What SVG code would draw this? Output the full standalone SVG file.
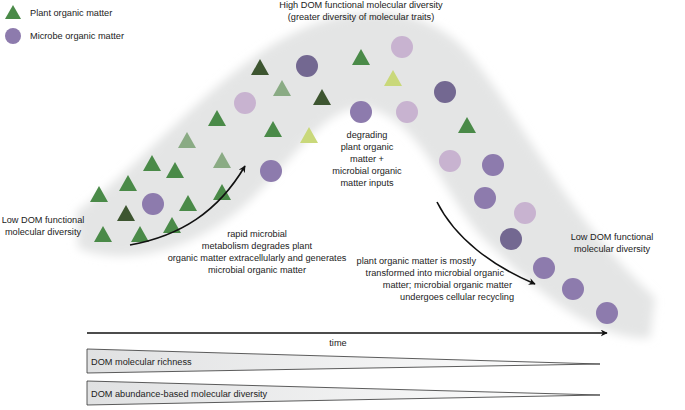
<svg xmlns="http://www.w3.org/2000/svg" width="685" height="410" viewBox="0 0 685 410">
<defs>
<filter id="blur" x="-10%" y="-10%" width="120%" height="120%"><feGaussianBlur stdDeviation="5"/></filter>
<linearGradient id="wg" x1="0" x2="1" y1="0" y2="0"><stop offset="0" stop-color="#e0e1e2"/><stop offset="1" stop-color="#ffffff"/></linearGradient>
<marker id="ah" viewBox="0 0 10 10" refX="9" refY="5" markerWidth="7" markerHeight="7" orient="auto" markerUnits="userSpaceOnUse"><path d="M0,0 L10,5 L0,10 L3,5 Z" fill="#111"/></marker>
</defs>
<style>
text{font-family:"Liberation Sans",Arial,sans-serif;font-size:9.2px;fill:#222}
.m{text-anchor:middle}.e{text-anchor:end}
.g{fill:#4a8a48}.d{fill:#3d5530}.l{fill:#8aab84}.y{fill:#c9d87a}
.p{fill:#8d7bad}.pd{fill:#736891}.pl{fill:#c8b3d0}
.arr{fill:none;stroke:#111;stroke-width:1.6;marker-end:url(#ah)}
.w{fill:url(#wg);stroke:#333;stroke-width:0.8}
</style>
<rect width="685" height="410" fill="#fff"/>
<path id="blob" filter="url(#blur)" fill="#e4e5e5" d="M76,212 C150,160 215,70 300,30 C365,0 430,8 470,55 C520,115 565,215 655,298 L650,338 C595,340 540,295 485,240 C445,198 425,128 375,110 C330,95 300,155 245,205 C195,250 125,268 78,248 Z"/>
<g id="legend">
<polygon class="g" points="13,5 21,19 5,19"/><text x="30" y="16">Plant organic matter</text>
<circle class="p" cx="13" cy="36" r="8"/><text x="30" y="39">Microbe organic matter</text>
</g>
<g id="shapes">
<polygon class="g" points="99,186 108,202 90,202"/>
<polygon class="g" points="128,175 137,191 119,191"/>
<polygon class="g" points="103,226 112,242 94,242"/>
<polygon class="g" points="140,226 149,242 131,242"/>
<polygon class="d" points="126,205 135,221 117,221"/>
<polygon class="g" points="152,155 161,171 143,171"/>
<polygon class="g" points="175,162 184,178 166,178"/>
<polygon class="g" points="188,195 197,211 179,211"/>
<polygon class="g" points="172,217 181,233 163,233"/>
<polygon class="l" points="187,132 196,148 178,148"/>
<polygon class="g" points="217,110 226,126 208,126"/>
<polygon class="l" points="222,152 231,168 213,168"/>
<polygon class="g" points="222,184 231,200 213,200"/>
<polygon class="d" points="260,59 269,75 251,75"/>
<polygon class="l" points="282,80 291,96 273,96"/>
<polygon class="d" points="322,89 331,105 313,105"/>
<polygon class="g" points="273,121 282,137 264,137"/>
<polygon class="y" points="309,127 318,143 300,143"/>
<polygon class="g" points="361,49 370,65 352,65"/>
<polygon class="y" points="393,70 402,86 384,86"/>
<polygon class="g" points="467,117 476,133 458,133"/>
<circle class="p" cx="153" cy="204" r="11"/>
<circle class="pl" cx="245" cy="103" r="11"/>
<circle class="pd" cx="307" cy="66" r="11"/>
<circle class="p" cx="271" cy="171" r="11"/>
<circle class="p" cx="361" cy="112" r="11"/>
<circle class="pl" cx="402" cy="47" r="11"/>
<circle class="pd" cx="445" cy="92" r="11"/>
<circle class="pl" cx="407" cy="112" r="11"/>
<circle class="pl" cx="450" cy="161" r="11"/>
<circle class="p" cx="493" cy="165" r="11"/>
<circle class="p" cx="485" cy="198" r="11"/>
<circle class="pl" cx="525" cy="213" r="11"/>
<circle class="pd" cx="511" cy="239" r="11"/>
<circle class="p" cx="544" cy="268" r="11"/>
<circle class="p" cx="573" cy="289" r="11"/>
<circle class="p" cx="607" cy="313" r="11"/>
</g>
<g id="connectors">
<path class="arr" d="M130,245 C180,236 218,212 245,166"/>
<path class="arr" d="M437,202 C455,238 492,266 535,284"/>
<path class="arr" d="M87,333 L607,333"/>
</g>
<g id="labels">
<text class="m" x="361" y="8">High DOM functional molecular diversity</text>
<text class="m" x="361" y="20">(greater diversity of molecular traits)</text>
<text class="m" x="43" y="223">Low DOM functional</text>
<text class="m" x="43" y="235">molecular diversity</text>
<text class="m" x="612" y="240">Low DOM functional</text>
<text class="m" x="612" y="252">molecular diversity</text>
<text class="m" x="367" y="138">degrading</text>
<text class="m" x="367" y="150">plant organic</text>
<text class="m" x="367" y="162">matter +</text>
<text class="m" x="367" y="174">microbial organic</text>
<text class="m" x="367" y="186">matter inputs</text>
<text class="m" x="257" y="237">rapid microbial</text>
<text class="m" x="257" y="249">metabolism degrades plant</text>
<text class="m" x="257" y="261">organic matter extracellularly and generates</text>
<text class="m" x="257" y="273">microbial organic matter</text>
<text class="e" x="476" y="264">plant organic matter is mostly</text>
<text class="e" x="504" y="276">transformed into microbial organic</text>
<text class="e" x="512" y="288">matter; microbial organic matter</text>
<text class="e" x="514" y="300">undergoes cellular recycling</text>
<text class="m" x="338" y="346">time</text>
</g>
<g id="wedge1"><polygon class="w" points="87,349 600,364 87,373"/><text x="91" y="365">DOM molecular richness</text></g>
<g id="wedge2"><polygon class="w" points="87,381 600,395 87,405"/><text x="91" y="397">DOM abundance-based molecular diversity</text></g>
</svg>
